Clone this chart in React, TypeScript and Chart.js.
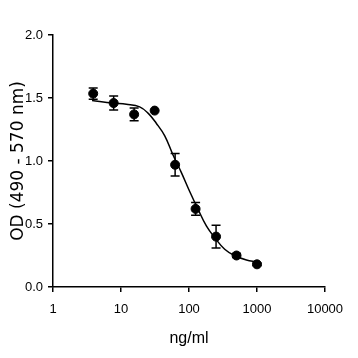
import React, { useEffect, useRef } from "react";
import { Chart, registerables } from "chart.js";

Chart.register(...registerables);

const concentrations = [3.9, 7.8, 15.6, 31.25, 62.5, 125, 250, 500, 1000];
const odValues = [1.535, 1.46, 1.37, 1.40, 0.97, 0.62, 0.40, 0.25, 0.18];
const odErrors = [0.045, 0.055, 0.05, 0, 0.09, 0.05, 0.09, 0.015, 0.01];

const curveX = [3.75, 7.6, 12, 18.8, 25, 33, 44, 58, 77, 102, 135, 180, 240, 335, 465, 700, 977];
const curveY = [1.48, 1.46, 1.45, 1.43, 1.38, 1.30, 1.20, 1.05, 0.91, 0.76, 0.62, 0.485, 0.39, 0.30, 0.25, 0.215, 0.20];

const xTickValues = [1, 10, 100, 1000, 10000];
const xTickLabels = ["1", "10", "100", "1000", "10000"];
const yTickValues = [0, 0.5, 1.0, 1.5, 2.0];

const xTitle = "ng/ml";
const yTitle = "OD (490 - 570 nm)";

const errorBarPlugin = {
  id: "errorBars",
  afterDatasetsDraw(chart: any) {
    const { ctx, scales } = chart;
    const x = scales.x;
    const y = scales.y;
    ctx.save();
    ctx.strokeStyle = "#000";
    ctx.lineWidth = 1.5;
    concentrations.forEach((c, i) => {
      const e = odErrors[i];
      if (!e) return;
      const px = x.getPixelForValue(c);
      const top = y.getPixelForValue(odValues[i] + e);
      const bot = y.getPixelForValue(odValues[i] - e);
      const cap = 4.5;
      ctx.beginPath();
      ctx.moveTo(px, top);
      ctx.lineTo(px, bot);
      ctx.moveTo(px - cap, top);
      ctx.lineTo(px + cap, top);
      ctx.moveTo(px - cap, bot);
      ctx.lineTo(px + cap, bot);
      ctx.stroke();
    });
    ctx.restore();
  },
};

export default function App() {
  const ref = useRef<HTMLCanvasElement>(null);
  useEffect(() => {
    if (!ref.current) return;
    const tickFont = { family: "'Liberation Sans Narrow', 'Liberation Sans', sans-serif", size: 13 };
    const chart = new Chart(ref.current, {
      type: "scatter",
      data: {
        datasets: [
          {
            type: "line",
            data: curveX.map((v, i) => ({ x: v, y: curveY[i] })),
            borderColor: "#000",
            borderWidth: 1.5,
            pointRadius: 0,
            fill: false,
            tension: 0.4,
            order: 2,
          } as any,
          {
            type: "scatter",
            data: concentrations.map((v, i) => ({ x: v, y: odValues[i] })),
            backgroundColor: "#000",
            borderColor: "#000",
            pointRadius: 4.5,
            order: 1,
          },
        ],
      },
      options: {
        animation: false,
        responsive: false,
        layout: { padding: { left: 0, right: 33, top: 35, bottom: 0 } },
        plugins: { legend: { display: false }, tooltip: { enabled: false } },
        scales: {
          x: {
            type: "logarithmic",
            min: 1,
            max: 10000,
            afterBuildTicks: (scale: any) => {
              scale.ticks = xTickValues.map((v) => ({ value: v }));
            },
            afterFit: (scale: any) => {
              scale.height = 71;
            },
            ticks: {
              color: "#000",
              font: tickFont,
              padding: 10,
              maxRotation: 0,
              autoSkip: false,
              callback: (v: any) => {
                const idx = xTickValues.indexOf(Number(v));
                return idx >= 0 ? xTickLabels[idx] : "";
              },
            },
            grid: { display: true, drawOnChartArea: false, drawTicks: true, tickLength: 5, color: "#000", lineWidth: 1.5 },
            border: { display: true, color: "#000", width: 1.5 },
            title: {
              display: true,
              text: xTitle,
              color: "#000",
              font: { family: "'Liberation Sans', Arial, sans-serif", size: 16 },
              padding: { top: 0, bottom: 10 },
            },
          },
          y: {
            min: 0,
            max: 2,
            afterBuildTicks: (scale: any) => {
              scale.ticks = yTickValues.map((v) => ({ value: v }));
            },
            afterFit: (scale: any) => {
              scale.width = 53;
            },
            ticks: {
              color: "#000",
              font: tickFont,
              padding: 5,
              callback: (v: any) => Number(v).toFixed(1),
            },
            grid: { display: true, drawOnChartArea: false, drawTicks: true, tickLength: 5, color: "#000", lineWidth: 1.5 },
            border: { display: true, color: "#000", width: 1.5 },
            title: {
              display: true,
              text: yTitle,
              color: "#000",
              font: { family: "'DejaVu Sans', sans-serif", size: 17 },
              padding: { top: 8, bottom: 0 },
            },
          },
        },
      },
      plugins: [errorBarPlugin],
    });
    return () => chart.destroy();
  }, []);
  return (
    <div style={{ position: "fixed", left: 0, top: 0, width: 358, height: 358, background: "#fff" }}>
      <canvas ref={ref} width={358} height={358} style={{ width: 358, height: 358, display: "block" }} />
    </div>
  );
}
